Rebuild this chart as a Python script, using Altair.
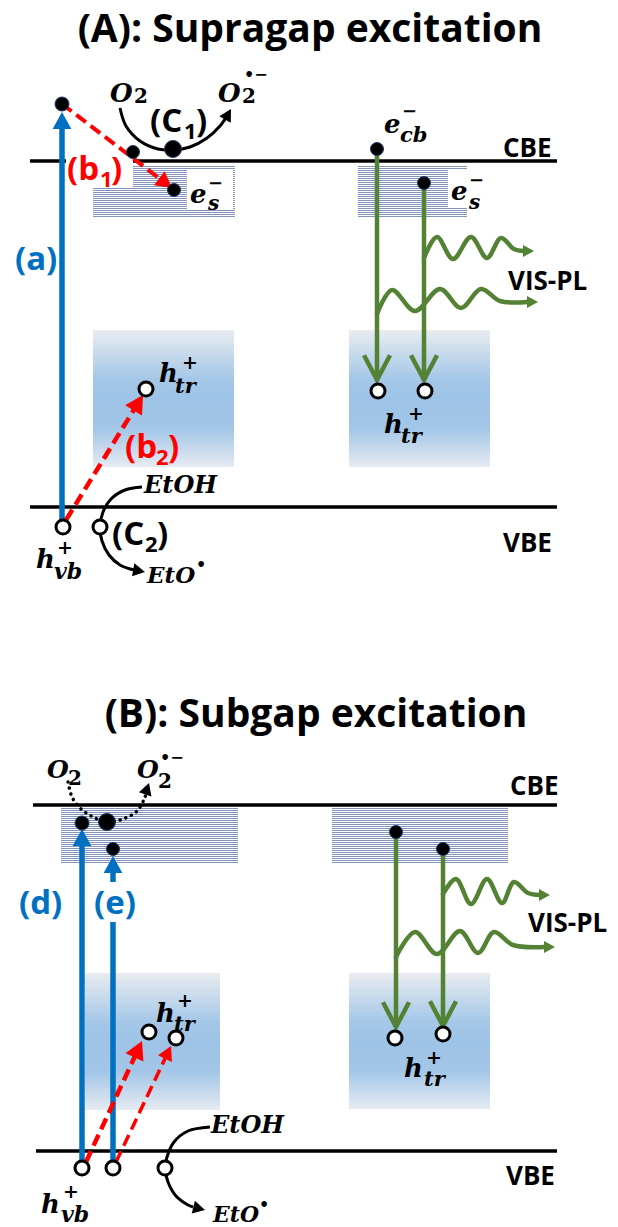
import math
import altair as alt
import pandas as pd

W, H = 618, 1227
BLUE, RED, GREEN, BLACK = "#0070C0", "#FF0000", "#548235", "#000000"

# ---------------- data ----------------
# band edges CBE / VBE
band_x0 = [30, 30, 33, 36]
band_x1 = [557, 557, 557, 557]
band_y = [161, 507, 805, 1151]

# deep trap boxes (h_tr)
deep_x0 = [93, 349, 85, 349]
deep_x1 = [234, 490, 220, 490]
deep_y0 = [330, 330, 973, 973]
deep_y1 = [467, 467, 1110, 1109]

# shallow trap boxes (hatched)
shal_x0 = [133, 93, 358, 61, 332]
shal_x1 = [235, 235, 467, 238, 508]
shal_y0 = [166, 188, 166, 808, 808]
shal_y1 = [188, 218, 218, 863, 863]

# white patches behind labels
patch_x0 = [187, 448, 66, 94]
patch_x1 = [233, 490, 133, 140]
patch_y0 = [170, 170, 155, 882]
patch_y1 = [210, 208, 188, 922]

# blue excitation arrows
blue_x = [62, 82, 113]
blue_y0 = [520, 1161, 1161]
blue_tip = [112, 829, 856]

# red dashed arrows
red_x0 = [62, 66, 86, 116]
red_y0 = [104, 520, 1162, 1162]
red_xt = [172, 143, 142, 171]
red_yt = [188, 395, 1041, 1046]
red_w = [4, 4.5, 4.5, 3.5]

# green recombination lines
green_x = [377, 424, 396, 443]
green_y0 = [149, 183, 832, 849]
green_y1 = [380, 380, 1027, 1026]

# green waves (VIS-PL)
waveA1_x = [424, 437, 453, 471, 487, 501, 514, 524]
waveA1_y = [258, 237, 259, 237, 258, 238, 249, 251]
waveA2_x = [377, 392, 415, 440, 461, 481, 500, 527]
waveA2_y = [314, 290, 311, 289, 308, 289, 301, 302]
waveB1_x = [443, 456, 471, 487, 502, 514, 528, 540]
waveB1_y = [894, 879, 904, 879, 903, 882, 893, 895]
waveB2_x = [396, 415, 437, 460, 478, 494, 513, 545]
waveB2_y = [957, 932, 954, 931, 953, 932, 945, 947]
wave_tip_x = [534, 538, 550, 555]
wave_tip_y = [251, 302, 895, 947]

# black curved arrows
c1_x = [120, 126, 140, 158, 173, 190, 207, 220, 227]
c1_y = [108, 126, 141, 149, 150, 147, 138, 126, 116]
c2_x = [142, 125, 111, 103, 100, 102, 109, 120, 134]
c2_y = [487, 490, 499, 512, 527, 541, 555, 565, 570]
cB_x = [210, 188, 174, 167, 165, 168, 176, 188, 193]
cB_y = [1127, 1131, 1142, 1157, 1168, 1182, 1196, 1205, 1207]
dB_x = [68, 72, 80, 93, 107, 123, 137, 145, 147]
dB_y = [782, 797, 808, 817, 822, 819, 811, 797, 789]
curve_tip_x = [231, 145, 205, 149]
curve_tip_y = [109, 572, 1210, 783]

# electrons (filled dots) and holes (open circles)
dot_x = [62, 133, 174, 377, 424, 82, 113, 396, 443, 173, 107]
dot_y = [104, 152, 190, 149, 183, 823, 849, 832, 849, 149, 822]
dot_r = [7, 6.5, 6.5, 6.5, 6.5, 7, 6.5, 6.5, 6.5, 8.5, 8.5]
hole_x = [63, 100, 146, 378, 425, 82, 113, 165, 149, 176, 395, 443]
hole_y = [527, 527, 389, 391, 391, 1168, 1168, 1168, 1032, 1038, 1038, 1034]

# text pieces: (text, left x, baseline y, size, colour)
titles = [
    ("(A): Supragap excitation", 310, 42, 39, BLACK),
    ("(B): Subgap excitation", 316, 727, 39, BLACK),
]
sans_labels = [
    ("(a)", 15, 270, 33, BLUE),
    ("(b", 67, 180, 33, RED), ("1", 100, 187, 22, RED), (")", 111, 180, 33, RED),
    ("(b", 125, 458, 33, RED), ("2", 156, 465, 22, RED), (")", 168, 458, 33, RED),
    ("(C", 150, 132, 33, BLACK), ("1", 184, 139, 22, BLACK), (")", 196, 132, 33, BLACK),
    ("(C", 112, 545, 33, BLACK), ("2", 145, 552, 22, BLACK), (")", 157, 545, 33, BLACK),
    ("(d)", 19, 914, 33, BLUE), ("(e)", 94, 914, 33, BLUE),
    ("CBE", 503, 157, 26, BLACK), ("VBE", 503, 552, 26, BLACK),
    ("VIS-PL", 508, 290, 26, BLACK),
    ("CBE", 510, 795, 26, BLACK), ("VBE", 506, 1185, 26, BLACK),
    ("VIS-PL", 528, 932, 26, BLACK),
]
math_italic = [
    ("O", 110, 102, 26), ("O", 218, 102, 26),
    ("e", 190, 203, 26), ("s", 208, 210, 20),
    ("e", 384, 133, 26), ("cb", 400, 142, 21),
    ("e", 451, 200, 26), ("s", 469, 209, 20),
    ("h", 159, 382, 26), ("tr", 175, 393, 21),
    ("h", 384, 433, 26), ("tr", 401, 443, 21),
    ("h", 36, 568, 26), ("vb", 54, 579, 22),
    ("EtOH", 144, 493, 24), ("EtO", 147, 583, 23),
    ("O", 47, 778, 25), ("O", 137, 778, 25),
    ("h", 156, 1022, 26), ("tr", 174, 1031, 21),
    ("h", 404, 1077, 26), ("tr", 424, 1086, 21),
    ("h", 41, 1213, 26), ("vb", 61, 1222, 22),
    ("EtOH", 211, 1133, 24), ("EtO", 213, 1222, 22),
]
math_upright = [
    ("2", 134, 103, 20), ("2", 242, 103, 20), ("•−", 244, 80, 16),
    ("−", 208, 189, 18), ("−", 402, 117, 18), ("−", 469, 186, 18),
    ("+", 182, 369, 19), ("+", 408, 420, 19), ("+", 57, 554, 19),
    ("•", 196, 570, 16),
    ("2", 68, 785, 20), ("2", 158, 788, 20), ("•−", 160, 763, 16),
    ("+", 177, 1007, 19), ("+", 426, 1064, 19), ("+", 63, 1198, 19),
    ("•", 259, 1210, 16),
]

# ---------------- helpers ----------------
def head(x0, y0, xt, yt, L):
    d = math.hypot(xt - x0, yt - y0)
    ux, uy = (xt - x0) / d, (yt - y0) / d
    ang = math.degrees(math.atan2(ux, -uy)) % 360
    return xt - ux * L * 0.85, yt - uy * L * 0.85, ang

X = lambda f="x": alt.X(f"{f}:Q", scale=alt.Scale(domain=[0, W], nice=False, zero=False), axis=None)
Y = lambda f="y": alt.Y(f"{f}:Q", scale=alt.Scale(domain=[0, H], nice=False, zero=False, reverse=True), axis=None)

layers = []

# deep trap gradient boxes
deep_df = pd.DataFrame({"x": deep_x0, "x2": deep_x1, "y": deep_y0, "y2": deep_y1})
grad = alt.LinearGradient(
    gradient="linear", x1=0, x2=0, y1=0, y2=1,
    stops=[alt.GradientStop(offset=0, color="#e9ecf0"),
           alt.GradientStop(offset=0.35, color="#a6c8e8"),
           alt.GradientStop(offset=0.5, color="#9dc3e6"),
           alt.GradientStop(offset=0.72, color="#a3c6e7"),
           alt.GradientStop(offset=1, color="#e6ebf2")])
layers.append(alt.Chart(deep_df).mark_rect(fill=grad, strokeWidth=0).encode(
    x=X(), x2="x2:Q", y=Y(), y2="y2:Q"))

# hatched shallow traps
hatch = []
for a, b, c, d in zip(shal_x0, shal_x1, shal_y0, shal_y1):
    yy = c + 0.5
    while yy < d:
        hatch.append({"x": a, "x2": b, "y": yy, "y2": yy})
        yy += 2
layers.append(alt.Chart(pd.DataFrame(hatch)).mark_rule(color="#8594bb", strokeWidth=1).encode(
    x=X(), x2="x2:Q", y=Y(), y2="y2:Q"))

# band lines
band_df = pd.DataFrame({"x": band_x0, "x2": band_x1, "y": band_y, "y2": band_y})
layers.append(alt.Chart(band_df).mark_rule(color="black", strokeWidth=3.5).encode(
    x=X(), x2="x2:Q", y=Y(), y2="y2:Q"))

heads = []  # x, y, angle, size, colour

# blue arrows
brows = []
for bx, by0, bt in zip(blue_x, blue_y0, blue_tip):
    ex, ey, ang = head(bx, by0, bx, bt, 17)
    brows.append({"x": bx, "x2": ex, "y": by0, "y2": ey})
    heads.append({"x": bx, "y": bt, "a": ang, "s": (2 * 17) ** 2, "c": BLUE})
layers.append(alt.Chart(pd.DataFrame(brows)).mark_rule(color=BLUE, strokeWidth=5.5).encode(
    x=X(), x2="x2:Q", y=Y(), y2="y2:Q"))

# white patches (label backgrounds)
patch_df = pd.DataFrame({"x": patch_x0, "x2": patch_x1, "y": patch_y0, "y2": patch_y1})
layers.append(alt.Chart(patch_df).mark_rect(color="white").encode(
    x=X(), x2="x2:Q", y=Y(), y2="y2:Q"))

# red dashed arrows
rrows = []
for x0, y0, xt, yt, w in zip(red_x0, red_y0, red_xt, red_yt, red_w):
    L = 4 * w
    ex, ey, ang = head(x0, y0, xt, yt, L)
    rrows.append({"x": x0, "x2": ex, "y": y0, "y2": ey, "w": w})
    heads.append({"x": xt, "y": yt, "a": ang, "s": (2 * L) ** 2, "c": RED})
layers.append(alt.Chart(pd.DataFrame(rrows)).mark_rule(color=RED, strokeDash=[12, 6]).encode(
    x=X(), x2="x2:Q", y=Y(), y2="y2:Q", strokeWidth=alt.StrokeWidth("w:Q", scale=None)))

# green vertical lines
grows = pd.DataFrame({"x": green_x, "x2": green_x, "y": green_y0, "y2": green_y1})
layers.append(alt.Chart(grows).mark_rule(color=GREEN, strokeWidth=4.5).encode(
    x=X(), x2="x2:Q", y=Y(), y2="y2:Q"))
chev_df = pd.DataFrame({"x": green_x, "y": green_y1})
layers.append(alt.Chart(chev_df).mark_point(
    shape="M-1,-1.9L0,0L1,-1.9", filled=False, size=676, color=GREEN, strokeWidth=4.5,
    opacity=1, strokeJoin="miter").encode(x=X(), y=Y()))

# green waves
wrows = []
for k, (wx, wy) in enumerate([(waveA1_x, waveA1_y), (waveA2_x, waveA2_y),
                               (waveB1_x, waveB1_y), (waveB2_x, waveB2_y)]):
    for i, (a, b) in enumerate(zip(wx, wy)):
        wrows.append({"id": k, "i": i, "x": a, "y": b})
    heads.append({"x": wave_tip_x[k], "y": wave_tip_y[k], "a": 90, "s": (2 * 11) ** 2, "c": GREEN})
layers.append(alt.Chart(pd.DataFrame(wrows)).mark_line(
    color=GREEN, strokeWidth=4.5, interpolate="catmull-rom", strokeCap="round").encode(
    x=X(), y=Y(), detail="id:N", order="i:Q"))

# black curved arrows
crows = []
for k, (cx, cy) in enumerate([(c1_x, c1_y), (c2_x, c2_y), (cB_x, cB_y)]):
    for i, (a, b) in enumerate(zip(cx, cy)):
        crows.append({"id": k, "i": i, "x": a, "y": b})
layers.append(alt.Chart(pd.DataFrame(crows)).mark_line(
    color="black", strokeWidth=3, interpolate="catmull-rom").encode(
    x=X(), y=Y(), detail="id:N", order="i:Q"))
drows = [{"i": i, "x": a, "y": b} for i, (a, b) in enumerate(zip(dB_x, dB_y))]
layers.append(alt.Chart(pd.DataFrame(drows)).mark_line(
    color="black", strokeWidth=3.5, interpolate="catmull-rom", strokeDash=[0.1, 6],
    strokeCap="round").encode(x=X(), y=Y(), order="i:Q"))
curve_src = [(c1_x[-1], c1_y[-1]), (c2_x[-1], c2_y[-1]), (cB_x[-1], cB_y[-1]), (dB_x[-1], dB_y[-1])]
for (sx, sy), tx, ty in zip(curve_src, curve_tip_x, curve_tip_y):
    _, _, ang = head(sx, sy, tx, ty, 10)
    heads.append({"x": tx, "y": ty, "a": ang, "s": (2 * 12) ** 2, "c": BLACK})

# arrow heads
layers.append(alt.Chart(pd.DataFrame(heads)).mark_point(
    shape="M0,0L-0.55,1L0.55,1Z", filled=True, opacity=1, strokeWidth=0).encode(
    x=X(), y=Y(), angle=alt.Angle("a:Q", scale=None),
    size=alt.Size("s:Q", scale=None), color=alt.Color("c:N", scale=None)))

# electrons
dot_df = pd.DataFrame({"x": dot_x, "y": dot_y, "s": [(2 * r) ** 2 for r in dot_r]})
layers.append(alt.Chart(dot_df).mark_point(
    shape="circle", filled=True, fill="black", stroke="#1f3864", strokeWidth=1, opacity=1).encode(
    x=X(), y=Y(), size=alt.Size("s:Q", scale=None)))

# holes
hole_df = pd.DataFrame({"x": hole_x, "y": hole_y})
layers.append(alt.Chart(hole_df).mark_point(
    shape="circle", filled=True, fill="white", stroke="black", strokeWidth=3, size=196,
    opacity=1).encode(x=X(), y=Y()))

# texts
def tdf(rows, default_colour=BLACK):
    out = []
    for r in rows:
        t, x, y, s = r[:4]
        c = r[4] if len(r) > 4 else default_colour
        out.append({"t": t, "x": x, "y": y, "s": s, "c": c})
    return pd.DataFrame(out)

def text_layer(df, **kw):
    return alt.Chart(df).mark_text(**kw).encode(
        x=X(), y=Y(), text="t:N", size=alt.Size("s:Q", scale=None),
        color=alt.Color("c:N", scale=None))

layers.append(text_layer(tdf(titles), align="center", baseline="alphabetic",
                         font="Open Sans", fontWeight="bold"))
layers.append(text_layer(tdf(sans_labels), align="left", baseline="alphabetic",
                         font="Open Sans", fontWeight="bold"))
layers.append(text_layer(tdf(math_italic), align="left", baseline="alphabetic",
                         font="DejaVu Serif", fontWeight="bold", fontStyle="italic"))
layers.append(text_layer(tdf(math_upright), align="left", baseline="alphabetic",
                         font="DejaVu Serif", fontWeight="bold"))

chart = alt.layer(*layers).properties(
    width=W, height=H, padding=0, autosize=alt.AutoSizeParams(type="none"),
    background="white"
).configure_view(stroke=None)

chart.save("out.html", embed_options={"renderer": "svg", "actions": False})
